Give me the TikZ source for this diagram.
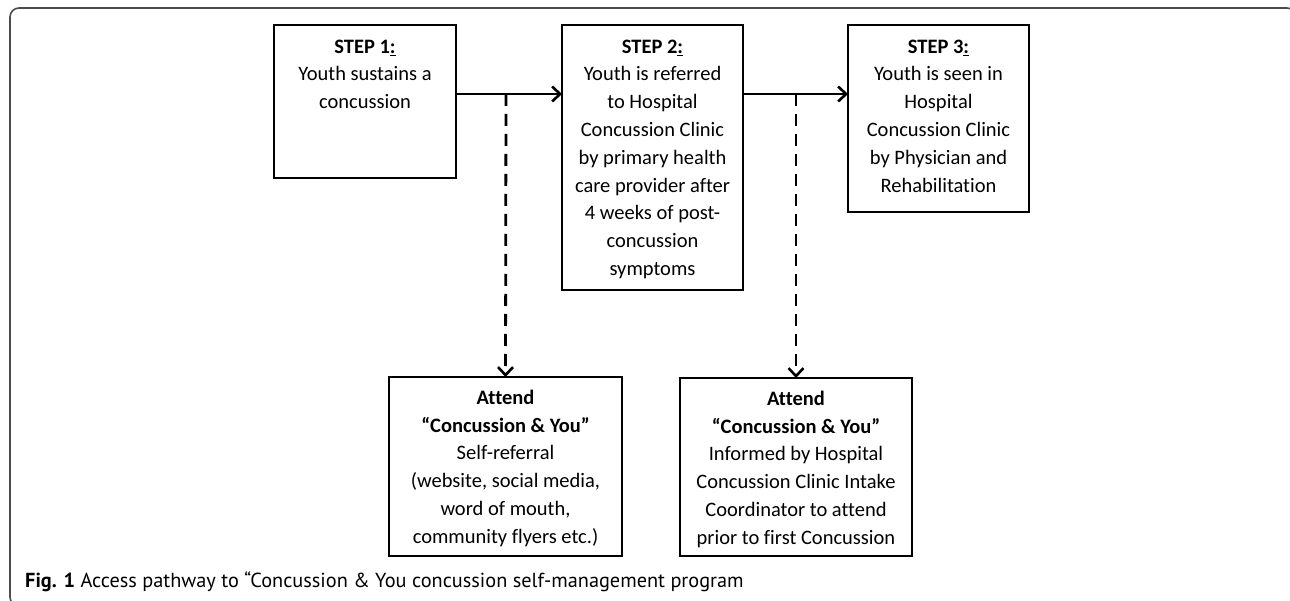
\documentclass[tikz,border=0pt]{standalone}
\usepackage{fontspec}
\setmainfont{Carlito}[Ligatures=NoCommon]
\newfontfamily\capfont{PT Sans}
\usetikzlibrary{arrows.meta}
\begin{document}
\begin{tikzpicture}[x=1pt,y=-1pt,
  stepbox/.style={draw=black, line width=2.2pt, minimum width=#1, inner sep=0, outer sep=0, anchor=north west},
  txt/.style={font=\fontsize{20.5}{27.8}\selectfont, align=center, inner sep=0, anchor=north},
  arr/.style={line width=2.6pt, -{Straight Barb[length=8pt,width=15pt,line width=2.6pt]}},
  dasharr/.style={line width=2.8pt, dash pattern=on 12pt off 8pt, -{Straight Barb[length=8pt,width=15pt,line width=2.6pt]}},
  frame/.style={draw=black!70, line width=1.6pt, rounded corners=9pt}
]
\clip (0,0) rectangle (1290,601);
\useasboundingbox (0,0) rectangle (1290,601);
\draw[frame] (10,8) rectangle (1296,606);

% boxes
\node[stepbox=182pt, minimum height=153pt] (s1) at (274,25) {};
\node[stepbox=181pt, minimum height=265pt] (s2) at (562,25) {};
\node[stepbox=181pt, minimum height=187pt] (s3) at (848,25) {};
\node[stepbox=233pt, minimum height=179pt] (a1) at (389,377) {};
\node[stepbox=232pt, minimum height=178pt] (a2) at (680,378) {};

% texts
\node[txt] (t1) at ([yshift=-8pt]s1.north) {\rule{0pt}{20pt}\textbf{STEP 1\underline{:}}\\Youth sustains a\\concussion};
\node[txt] (t2) at ([yshift=-8pt]s2.north) {\rule{0pt}{20pt}\textbf{STEP 2\underline{:}}\\Youth is referred\\to Hospital\\Concussion Clinic\\by primary health\\care provider after\\4 weeks of post-\\concussion\\symptoms};
\node[txt] (t3) at ([yshift=-8pt]s3.north) {\rule{0pt}{20pt}\textbf{STEP 3\underline{:}}\\Youth is seen in\\Hospital\\Concussion Clinic\\by Physician and\\Rehabilitation};
\node[txt] (t4) at ([yshift=-7pt]a1.north) {\rule{0pt}{20pt}\textbf{Attend}\\\textbf{“Concussion \& You”}\\Self-referral\\(website, social media,\\word of mouth,\\community flyers etc.)};
\node[txt] (t5) at ([yshift=-7pt]a2.north) {\rule{0pt}{20pt}\textbf{Attend}\\\textbf{“Concussion \& You”}\\Informed by Hospital\\Concussion Clinic Intake\\Coordinator to attend\\prior to first Concussion};

% connectors
\coordinate (d1) at (506,94);
\coordinate (d2) at (796,94);
\draw[arr] (s1.east |- d1) -- (s2.west |- d1);
\draw[arr] (s2.east |- d2) -- (s3.west |- d2);
\draw[dasharr] (d1) -- (a1.north);
\draw[dasharr] (d2) -- (a2.north);

% caption
\node[anchor=base west, inner sep=0, font=\capfont\fontsize{20.3}{22}\selectfont] (cap) at (25,587)
  {\textbf{Fig. 1} Access pathway to “Concussion \& You concussion self-management program};
\end{tikzpicture}
\end{document}
